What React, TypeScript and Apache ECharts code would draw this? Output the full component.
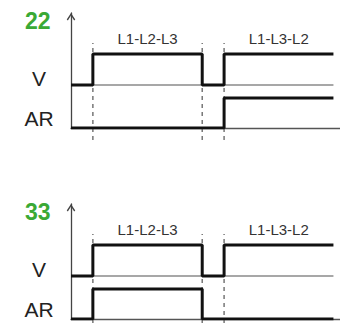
import React, { useEffect, useRef } from "react";
import * as echarts from "echarts";

// ---- DATA ----
const panelCodes = ["22", "33"];
const times = [0, 1, 6, 7, 12]; // switching instants
const switchTimes = [1, 6, 7]; // dashed guide instants
const phaseNames = ["L1-L2-L3", "L1-L3-L2"];
const phaseBounds = [
  [1, 6],
  [7, 12],
];
const channelNames = ["V", "AR"];
const v22 = [0, 1, 0, 1, 1];
const ar22 = [0, 0, 0, 1, 1];
const v33 = [0, 1, 0, 1, 1];
const ar33 = [0, 1, 0, 0, 0];

const panels = [
  { code: panelCodes[0], v: v22, ar: ar22 },
  { code: panelCodes[1], v: v33, ar: ar33 },
];

// ---- LAYOUT CONSTANTS ----
const V_LOW = 4.3;
const V_HIGH = 7.4;
const AR_LOW = 0;
const AR_HIGH = 3;
const LABEL_POS: Record<number, string> = { 5: channelNames[0], 1: channelNames[1] };
const GRID_TOPS = [13, 204];
const GRID_H = 115;

const ARROW = "path://M0,7 L4.5,0 L9,7 L7.8,7.9 L4.5,2.7 L1.2,7.9 Z";

export default function App() {
  const ref = useRef<HTMLDivElement>(null);
  useEffect(() => {
    if (!ref.current) return;
    const chart = echarts.init(ref.current, null, { renderer: "svg" });

    const grids = GRID_TOPS.map((top) => ({ left: 71, right: 0, top, height: GRID_H }));
    const xAxes = grids.map((_, i) => ({
      type: "value",
      gridIndex: i,
      min: 0,
      max: 12.3,
      axisLine: { show: true, lineStyle: { color: "#555", width: 1.3 } },
      axisTick: { show: false },
      axisLabel: { show: false },
      splitLine: { show: false },
    }));
    const yAxes = grids.map((_, i) => ({
      type: "value",
      gridIndex: i,
      min: 0,
      max: 11.5,
      interval: 1,
      axisLine: {
        show: true,
        symbol: ["none", ARROW],
        symbolSize: [10, 7.5],
        symbolOffset: [0, -3.7],
        lineStyle: { color: "#444", width: 1.3 },
      },
      axisTick: { show: false },
      splitLine: { show: false },
      axisLabel: {
        show: true,
        align: "center",
        margin: 32,
        fontSize: 21,
        color: "#222",
        fontFamily: "'Liberation Sans', Arial, sans-serif",
        formatter: (v: number) => LABEL_POS[v] || "",
      },
    }));

    const series: any[] = [];
    panels.forEach((p, i) => {
      series.push({
        type: "line",
        xAxisIndex: i,
        yAxisIndex: i,
        data: [
          [times[0], V_LOW],
          [times[times.length - 1], V_LOW],
        ],
        symbol: "none",
        lineStyle: { color: "#8a8a8a", width: 1.3 },
        z: 1,
      });
      switchTimes.forEach((t) => {
        series.push({
          type: "line",
          xAxisIndex: i,
          yAxisIndex: i,
          data: [
            [t, -1.2],
            [t, 8.5],
          ],
          clip: false,
          symbol: "none",
          lineStyle: { color: "#777", width: 1.5, type: [4, 4] },
          z: 1,
        });
      });
      series.push({
        type: "line",
        xAxisIndex: i,
        yAxisIndex: i,
        step: "end",
        data: times.map((t, k) => [t, p.v[k] ? V_HIGH : V_LOW]),
        symbol: "none",
        lineStyle: { color: "#111", width: 3 },
        z: 3,
        markArea: {
          silent: true,
          itemStyle: { color: "rgba(0,0,0,0)" },
          label: {
            show: true,
            position: "inside",
            fontSize: 15,
            color: "#333",
            fontFamily: "'Liberation Sans', Arial, sans-serif",
          },
          data: phaseNames.map((name, k) => [
            { name, xAxis: phaseBounds[k][0], yAxis: 8.5 },
            { xAxis: phaseBounds[k][1], yAxis: 9.5 },
          ]),
        },
      });
      series.push({
        type: "line",
        xAxisIndex: i,
        yAxisIndex: i,
        step: "end",
        data: times.map((t, k) => [t, p.ar[k] ? AR_HIGH : AR_LOW]),
        symbol: "none",
        lineStyle: { color: "#111", width: 3 },
        z: 3,
      });
    });

    chart.setOption({
      animation: false,
      textStyle: { fontFamily: "'Liberation Sans', Arial, sans-serif" },
      title: panels.map((p, i) => ({
        text: p.code,
        left: 25,
        top: GRID_TOPS[i] - 4,
        padding: 0,
        textStyle: {
          color: "#3aa935",
          fontSize: 23,
          fontWeight: "bold",
          fontFamily: "'Liberation Sans Narrow', 'Arial Narrow', sans-serif",
        },
      })),
      grid: grids,
      xAxis: xAxes,
      yAxis: yAxes,
      series,
    });
    return () => chart.dispose();
  }, []);
  return (
    <div
      ref={ref}
      style={{ position: "absolute", left: 0, top: 0, width: 340, height: 324 }}
    />
  );
}
